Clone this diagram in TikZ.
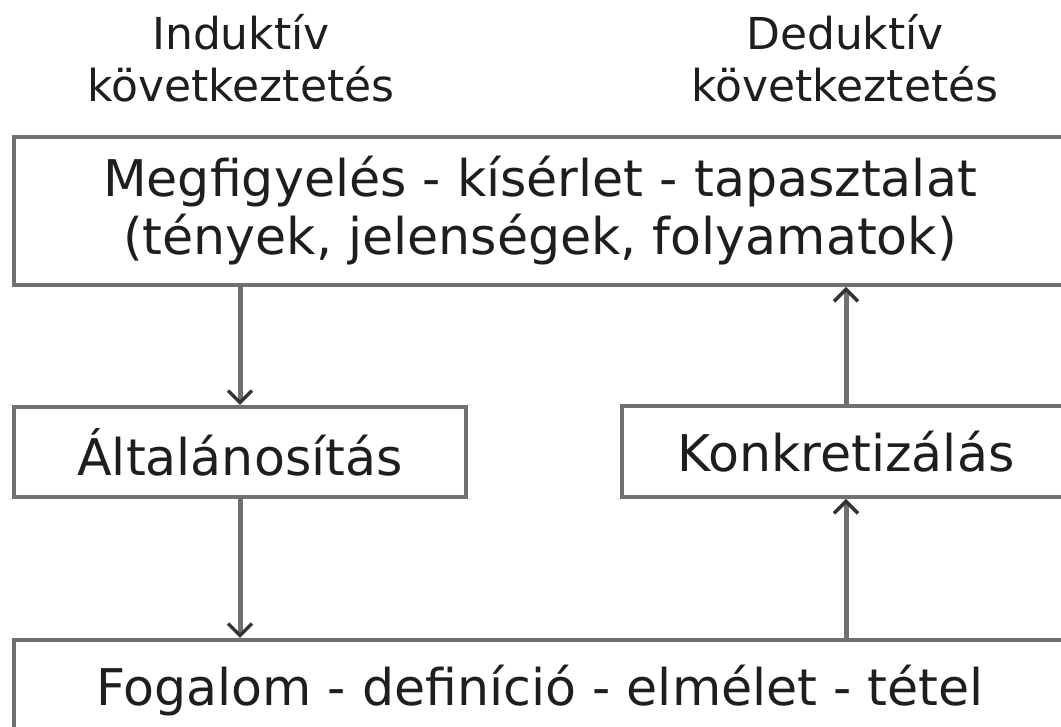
\documentclass[tikz,border=0pt]{standalone}
\usepackage{fontspec}
\setmainfont{DejaVu Sans}
\usetikzlibrary{arrows.meta}
\definecolor{linegray}{HTML}{707070}
\definecolor{textcol}{HTML}{1E1E1E}
\begin{document}
\begin{tikzpicture}[x=1pt,y=1pt,
  box/.style={draw=linegray, line width=4pt, rectangle, inner sep=0pt, align=center,
    font=\fontsize{50.6}{58}\selectfont, text=textcol},
  head/.style={align=center, font=\fontsize{44}{52}\selectfont, text=textcol, inner sep=0pt},
  arr/.style={draw=linegray, line width=5pt,
    -{Straight Barb[length=12pt,width=24pt,line width=3.5pt,color=black!80]}}]
\clip (0,0) rectangle (1061,727);
\fill[white] (0,0) rectangle (1061,727);
% headers
\node[head, anchor=north] (hind) at (241,713) {Induktív\\következtetés};
\node[head, anchor=north] (hded) at (845,713) {Deduktív\\következtetés};
% boxes
\node[box, minimum width=1052pt, minimum height=148pt] (top) at (540,516)
  {Megfigyelés - kísérlet - tapasztalat\\(tények, jelenségek, folyamatok)};
\node[box, minimum width=452pt, minimum height=90pt] (alt) at (240,275) {Általánosítás};
\node[box, minimum width=448pt, minimum height=91pt] (konk) at (846,275.5) {Konkretizálás};
\node[box, minimum width=1052pt, text height=66pt, text depth=94pt, anchor=base] (bot) at (540,21)
  {Fogalom - definíció - elmélet - tétel};
% connectors
\draw[arr] (top.south -| alt.north) -- (alt.north);
\draw[arr] (alt.south) -- (alt.south |- bot.north);
\draw[arr] (bot.north -| konk.south) -- (konk.south);
\draw[arr] (konk.north) -- (konk.north |- top.south);
\end{tikzpicture}
\end{document}
